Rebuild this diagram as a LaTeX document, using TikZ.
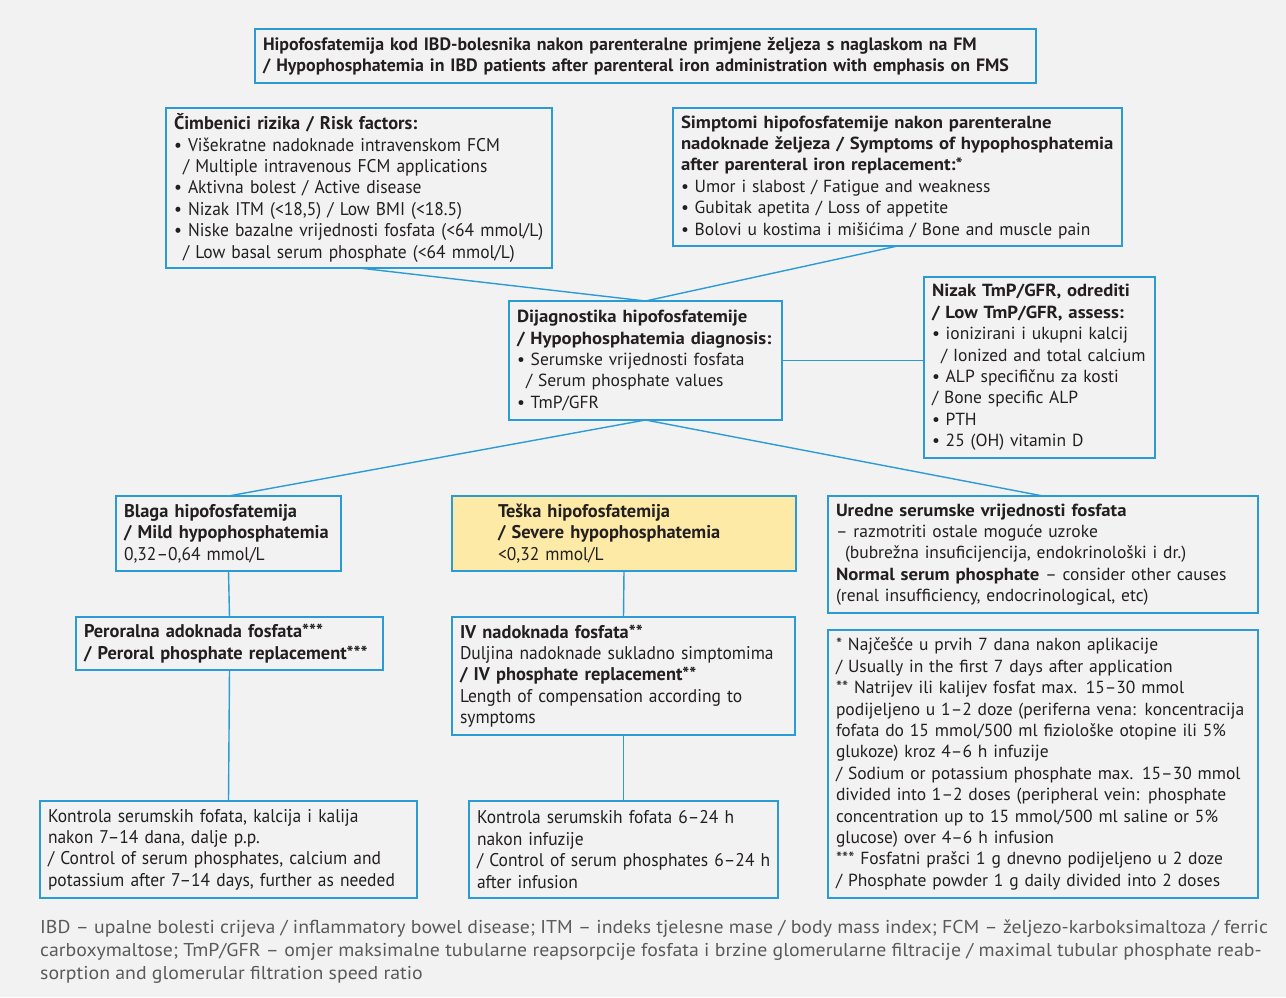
\documentclass[tikz,border=0pt]{standalone}
\usepackage{fontspec}
\setmainfont{PT Sans}
\newfontfamily\wf[BoldFeatures={FakeStretch=1.07}]{PT Sans}
\newfontfamily\cf[FakeStretch=0.95,BoldFeatures={FakeStretch=1.0}]{PT Sans}
\newfontfamily\ff[FakeStretch=1.065]{PT Sans}
\definecolor{bg}{HTML}{F2F2F2}
\definecolor{bl}{HTML}{2B9BD6}
\definecolor{yl}{HTML}{FCEAA6}
\definecolor{tx}{HTML}{231F20}
\definecolor{ft}{HTML}{5A5A5A}
\tikzset{
  box/.style={draw=bl, line width=1.4pt, fill=bg, inner xsep=8pt, inner ysep=0pt,
    outer sep=0pt, anchor=north west, align=left, text=tx},
  wide/.style={font=\wf\fontsize{17.5}{21.4}\selectfont},
  cond/.style={font=\cf\fontsize{18.4}{21.4}\selectfont},
  link/.style={draw=bl, line width=1.4pt}
}
\newcommand{\ind}{\hspace*{9pt}}
\begin{document}
\begin{tikzpicture}[x=1pt,y=-1pt]
\useasboundingbox (0,0) rectangle (1286,997);
\fill[bg] (0,0) rectangle (1286,997);

\node[box,font=\cf\fontsize{17.9}{21.4}\selectfont,text width=765pt,minimum height=54pt] (title) at (255,29)
 {\bfseries Hipofosfatemija kod IBD-bolesnika nakon parenteralne primjene željeza s naglaskom na FM\\
  \bfseries / Hypophosphatemia in IBD patients after parenteral iron administration with emphasis on FMS};

\node[box,cond,text width=370pt,minimum height=160pt] (risk) at (166,108)
 {\textbf{Čimbenici rizika / Risk factors:}\\
  • Višekratne nadoknade intravenskom FCM\\
  \ind / Multiple intravenous FCM applications\\
  • Aktivna bolest / Active disease\\
  • Nizak ITM (<18,5) / Low BMI (<18.5)\\
  • Niske bazalne vrijednosti fosfata (<64 mmol/L)\\
  \ind / Low basal serum phosphate (<64 mmol/L)};

\node[box,wide,text width=433pt,minimum height=138pt] (sym) at (673,108)
 {\textbf{Simptomi hipofosfatemije nakon parenteralne}\\
  \textbf{nadoknade željeza / Symptoms of hypophosphatemia}\\
  \textbf{after parenteral iron replacement:*}\\
  • Umor i slabost / Fatigue and weakness\\
  • Gubitak apetita / Loss of appetite\\
  • Bolovi u kostima i mišićima / Bone and muscle pain};

\node[box,wide,text width=257pt,minimum height=119pt] (diag) at (509,301)
 {\textbf{Dijagnostika hipofosfatemije}\\
  \textbf{/ Hypophosphatemia diagnosis:}\\
  • Serumske vrijednosti fosfata\\
  \ind / Serum phosphate values\\
  • TmP/GFR};

\node[box,wide,text width=215pt,minimum height=181pt] (low) at (924,277)
 {\textbf{Nizak TmP/GFR, odrediti}\\
  \textbf{/ Low TmP/GFR, assess:}\\
  • ionizirani i ukupni kalcij\\
  \ind / Ionized and total calcium\\
  • ALP specifičnu za kosti\\
  / Bone specific ALP\\
  • PTH\\
  • 25 (OH) vitamin D};

\node[box,cond,text width=209pt,minimum height=75pt] (mild) at (116,496)
 {\textbf{Blaga hipofosfatemija}\\
  \textbf{/ Mild hypophosphatemia}\\
  0,32–0,64 mmol/L};

\node[box,cond,fill=yl,text width=328pt,minimum height=75pt] (sev) at (452,496)
 {\hspace*{38pt}\textbf{Teška hipofosfatemija}\\
  \hspace*{38pt}\textbf{/ Severe hypophosphatemia}\\
  \hspace*{38pt}<0,32 mmol/L};

\node[box,wide,text width=414pt,minimum height=117pt] (norm) at (828,496)
 {\textbf{Uredne serumske vrijednosti fosfata}\\
  – razmotriti ostale moguće uzroke\\
  \ind(bubrežna insuficijencija, endokrinološki i dr.)\\
  \textbf{Normal serum phosphate} – consider other causes\\
  (renal insufficiency, endocrinological, etc)};

\node[box,cond,text width=291pt,minimum height=53pt] (oral) at (76,617)
 {\textbf{Peroralna adoknada fosfata***}\\
  \textbf{/ Peroral phosphate replacement***}};

\node[box,cond,text width=327pt,minimum height=118pt] (iv) at (452,617)
 {\textbf{IV nadoknada fosfata**}\\
  Duljina nadoknade sukladno simptomima\\
  \textbf{/ IV phosphate replacement**}\\
  Length of compensation according to\\
  symptoms};

\node[box,wide,text width=414pt,minimum height=268pt] (notes) at (828,630)
 {* Najčešće u prvih 7 dana nakon aplikacije\\
  / Usually in the first 7 days after application\\
  \relax ** Natrijev ili kalijev fosfat max. 15–30 mmol\\
  podijeljeno u 1–2 doze (periferna vena: koncentracija\\
  fofata do 15 mmol/500 ml fiziološke otopine ili 5\%\\
  glukoze) kroz 4–6 h infuzije\\
  / Sodium or potassium phosphate max. 15–30 mmol\\
  divided into 1–2 doses (peripheral vein: phosphate\\
  concentration up to 15 mmol/500 ml saline or 5\%\\
  glucose) over 4–6 h infusion\\
  \relax *** Fosfatni prašci 1 g dnevno podijeljeno u 2 doze\\
  / Phosphate powder 1 g daily divided into 2 doses};

\node[box,cond,text width=361pt,minimum height=97pt] (ctl1) at (40,801)
 {Kontrola serumskih fofata, kalcija i kalija\\
  nakon 7–14 dana, dalje p.p.\\
  / Control of serum phosphates, calcium and\\
  potassium after 7–14 days, further as needed};

\node[box,cond,text width=293pt,minimum height=97pt] (ctl2) at (469,801)
 {Kontrola serumskih fofata 6–24~h\\
  nakon infuzije\\
  \mbox{/ Control of serum phosphates 6–24 h}\\
  after infusion};

\node[anchor=north west, inner sep=0pt, align=left, text=ft, font=\ff\fontsize{18.6}{23}\selectfont] (foot) at (40,920)
 {IBD – upalne bolesti crijeva / inflammatory bowel disease; ITM – indeks tjelesne mase / body mass index; FCM – željezo-karboksimaltoza / ferric\\
  carboxymaltose; TmP/GFR – omjer maksimalne tubularne reapsorpcije fosfata i brzine glomerularne filtracije / maximal tubular phosphate reab-\\
  sorption and glomerular filtration speed ratio};

\draw[link] (risk.south) -- (diag.north);
\draw[link] (sym.south) -- (diag.north);
\draw[link] (diag.east) -- (diag.east -| low.west);
\draw[link] (diag.south) -- (mild.north);
\draw[link] (diag.south) -- (norm.north);
\draw[link] (mild.south) -- (oral.north);
\draw[link] (oral.south) -- (ctl1.north);
\draw[link] (sev.south) -- (iv.north);
\draw[link] (iv.south) -- (iv.south |- ctl2.north);
\end{tikzpicture}
\end{document}
